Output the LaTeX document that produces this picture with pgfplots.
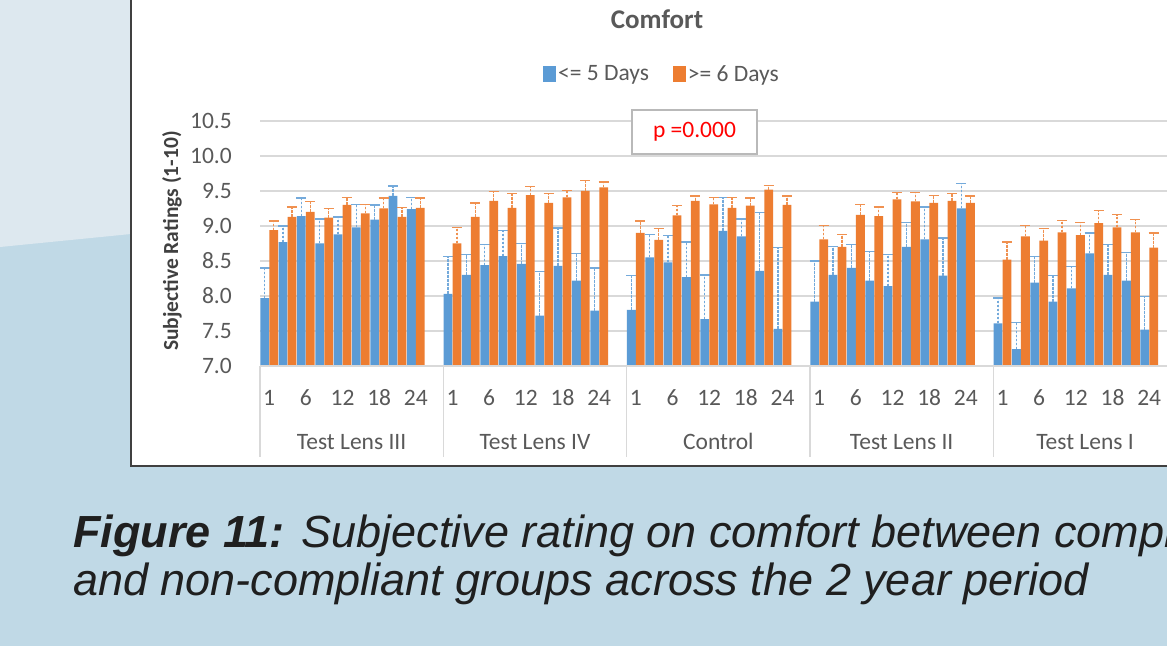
\documentclass[border=0pt]{standalone}
\usepackage{pgfplots}
\usepackage{pgfplotstable}
\pgfplotsset{compat=1.18}
\usepackage{fontspec}
\setmainfont{Carlito}
\newfontfamily\capfont{Liberation Sans}
\definecolor{bgtop}{HTML}{DDE8EF}
\definecolor{bgbot}{HTML}{C0D9E6}
\definecolor{xlblue}{HTML}{5B9BD5}
\definecolor{xlorange}{HTML}{ED7D31}
\definecolor{gridc}{HTML}{D9D9D9}
\definecolor{txt}{HTML}{595959}
\definecolor{boxc}{HTML}{404040}

\pgfplotstableread{
x y e
0.5 7.97 0.43
1.5 8.77 0.23
2.5 9.14 0.26
3.5 8.75 0.35
4.5 8.88 0.25
5.5 8.98 0.33
6.5 9.09 0.21
7.5 9.43 0.14
8.5 9.24 0.17
10.5 8.03 0.53
11.5 8.30 0.29
12.5 8.44 0.30
13.5 8.57 0.37
14.5 8.46 0.29
15.5 7.72 0.63
16.5 8.43 0.54
17.5 8.22 0.39
18.5 7.79 0.61
20.5 7.80 0.49
21.5 8.55 0.33
22.5 8.48 0.38
23.5 8.27 0.50
24.5 7.67 0.63
25.5 8.93 0.48
26.5 8.85 0.25
27.5 8.36 0.83
28.5 7.53 1.16
30.5 7.92 0.58
31.5 8.30 0.41
32.5 8.40 0.34
33.5 8.22 0.42
34.5 8.14 0.45
35.5 8.70 0.35
36.5 8.81 0.46
37.5 8.29 0.54
38.5 9.25 0.36
40.5 7.61 0.36
41.5 7.24 0.38
42.5 8.19 0.37
43.5 7.92 0.37
44.5 8.11 0.31
45.5 8.61 0.29
46.5 8.30 0.44
47.5 8.22 0.40
48.5 7.52 0.47
}\lowdays

\pgfplotstableread{
x y e
0.5 8.94 0.13
1.5 9.13 0.14
2.5 9.20 0.15
3.5 9.12 0.13
4.5 9.30 0.11
5.5 9.18 0.13
6.5 9.25 0.15
7.5 9.13 0.13
8.5 9.26 0.14
10.5 8.75 0.23
11.5 9.13 0.20
12.5 9.36 0.13
13.5 9.26 0.20
14.5 9.44 0.12
15.5 9.33 0.13
16.5 9.41 0.10
17.5 9.50 0.15
18.5 9.55 0.08
20.5 8.90 0.17
21.5 8.80 0.16
22.5 9.15 0.14
23.5 9.36 0.07
24.5 9.31 0.10
25.5 9.26 0.15
26.5 9.29 0.11
27.5 9.52 0.06
28.5 9.30 0.13
30.5 8.81 0.20
31.5 8.70 0.18
32.5 9.16 0.15
33.5 9.14 0.13
34.5 9.38 0.10
35.5 9.35 0.13
36.5 9.33 0.11
37.5 9.36 0.10
38.5 9.33 0.10
40.5 8.52 0.25
41.5 8.85 0.16
42.5 8.79 0.17
43.5 8.91 0.17
44.5 8.87 0.18
45.5 9.04 0.18
46.5 8.98 0.18
47.5 8.91 0.18
48.5 8.69 0.21
}\highdays

\newcommand{\lbl}{\fontsize{23.5pt}{28pt}\selectfont}

\begin{document}
\begin{tikzpicture}[x=1pt,y=1pt]
\useasboundingbox (0,0) rectangle (1167,646);
\clip (0,0) rectangle (1167,646);
% background
\fill[bgbot] (0,0) rectangle (1167,646);
\fill[bgtop] (0,646) -- (131,646) -- (131,412) -- (0,399) -- cycle;
% white chart box
\filldraw[fill=white, draw=boxc, line width=2.5pt] (131,180) rectangle (1250,700);

\begin{axis}[
  at={(260pt,280pt)}, anchor=south west,
  scale only axis, width=916.7pt, height=245pt,
  xmin=0, xmax=50, ymin=7, ymax=10.5,
  clip mode=individual,
  axis line style={draw=none},
  major tick length=0pt,
  ytick={7,7.5,...,10.5},
  ymajorgrids, grid style={gridc, line width=1.3pt},
  xtick={0.5,2.5,4.5,6.5,8.5,10.5,12.5,14.5,16.5,18.5,20.5,22.5,24.5,26.5,28.5,30.5,32.5,34.5,36.5,38.5,40.5,42.5,44.5,46.5,48.5},
  xticklabels={1,6,12,18,24,1,6,12,18,24,1,6,12,18,24,1,6,12,18,24,1,6,12,18,24},
  ticklabel style={font=\lbl, text=txt},
  xticklabel style={anchor=base, yshift=-39pt},
  yticklabel style={anchor=east, inner sep=0pt, xshift=-28pt},
  /pgf/number format/.cd, fixed, fixed zerofill, precision=1, assume math mode=true,
  /pgfplots/.cd,
  legend columns=2,
  legend style={at={(rel axis cs:0.4385,1.192)}, anchor=center, draw=none, fill=none,
    font=\lbl, text=txt, inner sep=0pt,
    /tikz/every even column/.append style={column sep=22pt}},
  legend image code/.code={\fill[#1] (0pt,-8pt) rectangle (13pt,8pt);},
]
\addplot[ybar, bar width=8.8pt, bar shift=0pt, fill=xlblue, draw=none,
  error bars/.cd, y dir=plus, y explicit, error mark=|,
  error bar style={xlblue!85, line width=1.4pt, dash pattern=on 2.5pt off 1.5pt},
  error mark options={xlblue!85, line width=1.3pt, mark size=5pt, solid}]
  table[x expr=\thisrow{x}-0.245, y=y, y error=e]{\lowdays};
\addlegendentry{<= 5 Days}
\addplot[ybar, bar width=8.8pt, bar shift=0pt, fill=xlorange, draw=none,
  error bars/.cd, y dir=plus, y explicit, error mark=|,
  error bar style={xlorange!85, line width=1.4pt, dash pattern=on 2.5pt off 1.5pt},
  error mark options={xlorange!85, line width=1.3pt, mark size=5pt, solid}]
  table[x expr=\thisrow{x}+0.245, y=y, y error=e]{\highdays};
\addlegendentry{>= 6 Days}
\draw[gridc, line width=1.3pt] (axis cs:0,7) -- (axis cs:50,7);
\pgfplotsinvokeforeach{0,10,20,30,40,50}{
  \draw[gridc, line width=1.3pt] (axis cs:#1,7) -- ++(0pt,-91pt);
}
\node[anchor=base, font=\lbl, text=txt, yshift=-83pt] at (axis cs:5,7) {Test Lens III};
\node[anchor=base, font=\lbl, text=txt, yshift=-83pt] at (axis cs:15,7) {Test Lens IV};
\node[anchor=base, font=\lbl, text=txt, yshift=-83pt] at (axis cs:25,7) {Control};
\node[anchor=base, font=\lbl, text=txt, yshift=-83pt] at (axis cs:35,7) {Test Lens II};
\node[anchor=base, font=\lbl, text=txt, yshift=-83pt] at (axis cs:45,7) {Test Lens I};
\end{axis}

% title
\node[font=\fontsize{27pt}{32pt}\selectfont\bfseries, text=txt] at (657,627) {Comfort};
% y label
\node[rotate=90, font=\fontsize{21.5pt}{26pt}\selectfont\bfseries, text=boxc] at (172,405) {Subjective Ratings (1-10)};
% p value box
\node[draw=gray!55, line width=1.5pt, fill=white, minimum width=125pt, minimum height=44pt,
  font=\lbl, text=red, inner sep=0pt] at (694.5,514) {p =0.000};
% caption
\node[anchor=base west, inner sep=0pt, font=\capfont\fontsize{45pt}{52pt}\selectfont, text=black!88] at (73,99)
  {\textbf{\textit{Figure 11:}} \textit{Subjective rating on comfort between compliant}};
\node[anchor=base west, inner sep=0pt, font=\capfont\fontsize{45pt}{52pt}\selectfont, text=black!88] at (73,51)
  {\textit{and non-compliant groups across the 2 year period}};
\end{tikzpicture}
\end{document}
